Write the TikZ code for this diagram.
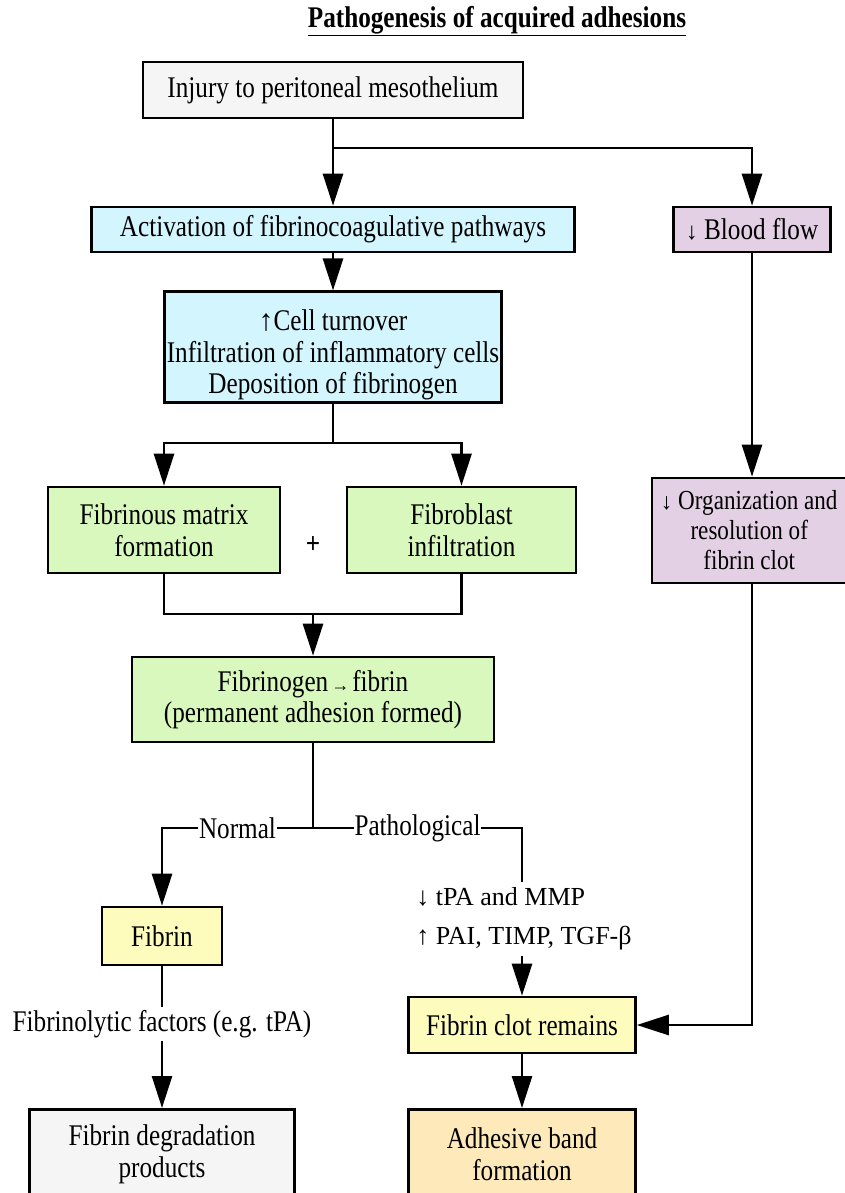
\documentclass[tikz,border=0pt]{standalone}
\usepackage{fontspec}
\setmainfont{Liberation Serif}[FakeStretch=0.84]
\newfontfamily\widefont{Liberation Serif}
\usetikzlibrary{arrows.meta}
\definecolor{boxgray}{RGB}{245,245,245}
\definecolor{boxcyan}{RGB}{211,245,253}
\definecolor{boxlilac}{RGB}{228,208,228}
\definecolor{boxgreen}{RGB}{217,248,189}
\definecolor{boxyellow}{RGB}{253,252,188}
\definecolor{boxorange}{RGB}{253,233,185}

\begin{document}
\begin{tikzpicture}[x=1pt,y=-1pt,
  every node/.style={font=\fontsize{30}{31.5}\selectfont},
  box/.style={draw, line width=2.6pt, align=center, inner sep=2pt},
  line/.style={line width=2.6pt},
  arr/.style={line width=2.6pt, -{Triangle[length=32pt,width=20pt]}},
  lbl/.style={fill=white, inner sep=1pt}]
\clip (0,0) rectangle (845,1193);
\fill[white] (0,0) rectangle (845,1193);

% title
\node (title) at (497,21) {\bfseries\underline{Pathogenesis of acquired adhesions}};

% left column
\node[box, fill=boxgray, minimum width=380pt, minimum height=56pt] (injury) at (333,90) {Injury to peritoneal mesothelium};
\node[box, fill=boxcyan, minimum width=483pt, minimum height=45pt] (activation) at (333,229.5) {Activation of fibrinocoagulative pathways};
\node[box, fill=boxcyan, minimum width=337pt, minimum height=110pt] (cells) at (333,347) {\rule{0pt}{37pt}{\widefont↑}Cell turnover\\Infiltration of inflammatory cells\\Deposition of fibrinogen};
\node[box, fill=boxgreen, minimum width=232pt, minimum height=86pt] (matrix) at (164,530) {Fibrinous matrix\\formation};
\node (plus) at (313,545) {\bfseries +};
\node[box, fill=boxgreen, minimum width=229pt, minimum height=86pt] (fibroblast) at (461.5,530) {Fibroblast\\infiltration};
\node[box, fill=boxgreen, minimum width=362pt, minimum height=85pt] (fibrinogen) at (313,699.5) {Fibrinogen{\widefont\fontsize{18}{18}\selectfont\,→\,}fibrin\\(permanent adhesion formed)};
\node[box, fill=boxyellow, minimum width=120pt, minimum height=58pt] (fibrin) at (162,936) {Fibrin};
\node (fibrinolytic) at (162,1024) {Fibrinolytic factors (e.g. tPA)};
\node[box, fill=boxgray, minimum width=265pt, minimum height=90pt, anchor=north] (degradation) at (162,1108) {Fibrin degradation\\products};

% right column
\node[box, fill=boxlilac, minimum width=157pt, minimum height=45pt] (blood) at (752,229.5) {{\widefont\fontsize{24}{24}\selectfont↓} Blood flow};
\node[box, fill=boxlilac, minimum width=194.5pt, minimum height=105pt, font=\fontsize{27.5}{30}\selectfont] (organ) at (749.25,530.5) {{\widefont\fontsize{23}{23}\selectfont↓} Organization and\\resolution of\\fibrin clot};
\node[align=left, inner sep=6pt, font=\widefont\fontsize{26}{39}\selectfont] (regul) at (524,919) {↓ tPA and MMP\\↑ PAI, TIMP, TGF-β};
\node[box, fill=boxyellow, minimum width=227pt, minimum height=56pt] (clot) at (522,1025) {Fibrin clot remains};
\node[box, fill=boxorange, minimum width=227pt, minimum height=90pt, anchor=north] (band) at (522,1108) {Adhesive band\\formation};

% connectors
\coordinate (split) at (333,148);
\draw[arr] (injury.south) -- (activation.north);
\draw[arr] (split) -| (blood.north);
\draw[arr] (activation.south) -- (cells.north);
\draw[arr] (blood.south) -- (blood.south |- organ.north);
\draw[arr] (blood.south |- organ.south) |- (clot.east);

\coordinate (fork) at (333,443);
\draw[line] (cells.south) -- (fork);
\draw[arr] (fork) -| (matrix.north);
\draw[arr] (fork) -| (fibroblast.north);

\coordinate (join) at (313,614);
\draw[line] (matrix.south) |- (join) -| (fibroblast.south);
\draw[arr] (join) -- (fibrinogen.north);

\coordinate (branch) at (313,828);
\draw[line] (fibrinogen.south) -- (branch);
\draw[arr] (branch) -- node[lbl] {Normal} (branch -| fibrin) -- (fibrin.north);
\draw[line] (branch) -- node[lbl] {Pathological} (branch -| clot) -- (regul.north -| clot);
\draw[arr] (regul.south -| clot) -- (clot.north);

\draw[line] (fibrin.south) -- (fibrinolytic.north);
\draw[arr] (fibrinolytic.south) -- (degradation.north);
\draw[arr] (clot.south) -- (band.north);

\end{tikzpicture}
\end{document}
